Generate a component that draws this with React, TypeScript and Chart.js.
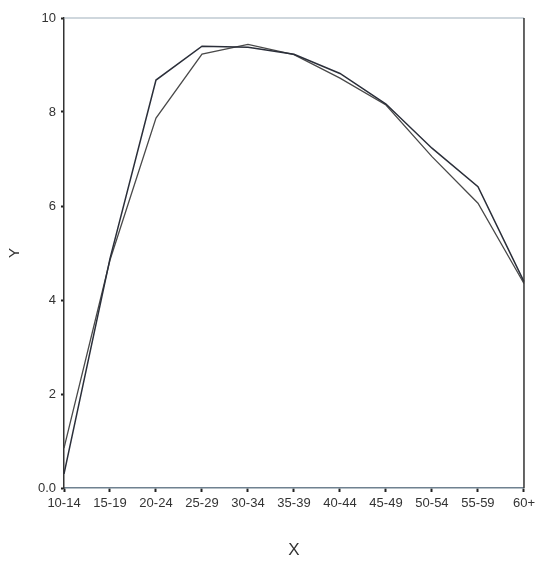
import React, { useEffect, useRef } from "react";
import { Chart, registerables } from "chart.js";

Chart.register(...registerables);

const categories = ["10-14", "15-19", "20-24", "25-29", "30-34", "35-39", "40-44", "45-49", "50-54", "55-59", "60+"];
const seriesA = [0.3, 4.88, 8.68, 9.4, 9.38, 9.23, 8.82, 8.17, 7.23, 6.41, 4.39];
const seriesB = [0.85, 4.85, 7.87, 9.23, 9.44, 9.22, 8.72, 8.15, 7.05, 6.06, 4.35];
const yTicks = [0, 2, 4, 6, 8, 10];
const yTickLabels = ["0.0", "2", "4", "6", "8", "10"];

const frame = {
  id: "frame",
  afterDatasetsDraw(chart: any) {
    const { ctx, chartArea } = chart;
    ctx.save();
    ctx.lineWidth = 1.2;
    ctx.strokeStyle = "#9fb0bb";
    ctx.beginPath();
    ctx.moveTo(chartArea.left, chartArea.top);
    ctx.lineTo(chartArea.right, chartArea.top);
    ctx.stroke();
    ctx.strokeStyle = "#333";
    ctx.lineWidth = 1.5;
    ctx.beginPath();
    ctx.moveTo(chartArea.right, chartArea.top);
    ctx.lineTo(chartArea.right, chartArea.bottom);
    ctx.stroke();
    ctx.restore();
  },
};

export default function App() {
  const ref = useRef<HTMLCanvasElement>(null);
  useEffect(() => {
    document.body.style.margin = "0";
    const chart = new Chart(ref.current as HTMLCanvasElement, {
      type: "line",
      data: {
        labels: categories,
        datasets: [
          { data: seriesA, borderColor: "#2b2f3a", borderWidth: 1.5, pointRadius: 0, tension: 0 },
          { data: seriesB, borderColor: "#4a4a4a", borderWidth: 1.3, pointRadius: 0, tension: 0 },
        ],
      },
      options: {
        animation: false,
        responsive: false,
        layout: { padding: { left: 0, right: 10, top: 18, bottom: 0 } },
        plugins: { legend: { display: false }, tooltip: { enabled: false } },
        scales: {
          x: {
            offset: false,
            grid: { drawOnChartArea: false, tickLength: 4, color: "#222", tickWidth: 2 },
            border: { color: "#6f8190", width: 1.5 },
            ticks: {
              color: "#333",
              font: { family: "Liberation Sans, Arial", size: 13 },
              padding: 4,
              maxRotation: 0,
              autoSkip: false,
            },
            title: {
              display: true,
              text: "X",
              color: "#333",
              font: { family: "Liberation Sans, Arial", size: 17 },
              padding: { top: 0, bottom: 7 },
            },
            afterFit(scale: any) {
              scale.height = 80;
            },
          },
          y: {
            min: 0,
            max: 10,
            afterBuildTicks(scale: any) {
              scale.ticks = yTicks.map((v) => ({ value: v }));
            },
            grid: { drawOnChartArea: false, tickLength: 3, color: "#222", tickWidth: 2 },
            border: { color: "#333", width: 1.5 },
            ticks: {
              color: "#333",
              font: { family: "Liberation Sans, Arial", size: 13 },
              padding: 5,
              callback: (v: any) => yTickLabels[yTicks.indexOf(Number(v))],
            },
            title: {
              display: true,
              text: "Y",
              color: "#333",
              font: { family: "Liberation Sans, Arial", size: 15 },
              padding: { top: 6, bottom: 0 },
            },
            afterFit(scale: any) {
              scale.width = 64;
            },
          },
        },
      },
      plugins: [frame],
    } as any);
    return () => chart.destroy();
  }, []);
  return (
    <div style={{ position: "absolute", left: 0, top: 0, width: 539, height: 568, background: "#fff" }}>
      <canvas ref={ref} width={539} height={568} />
    </div>
  );
}
